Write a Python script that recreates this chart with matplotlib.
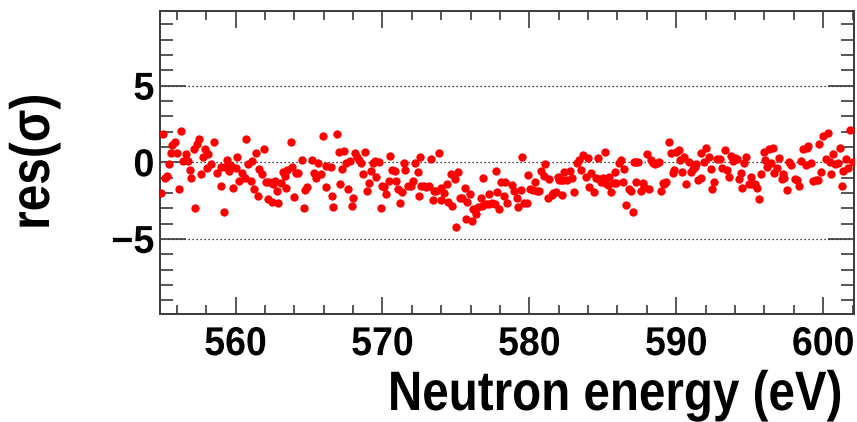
import matplotlib
matplotlib.use("Agg")
import matplotlib.pyplot as plt
from matplotlib import patheffects
from matplotlib.ticker import MultipleLocator, FuncFormatter
from matplotlib.transforms import Affine2D

# Fit residuals (in units of sigma) versus neutron energy (eV)
energy = [
    555.07, 556.27, 555.86, 555.70, 557.54, 557.38, 557.18, 558.51, 560.69, 555.59,
    556.04, 556.63, 557.93, 558.15, 557.77, 560.10, 556.45, 556.77, 555.50, 559.42,
    560.85, 558.36, 558.08, 556.88, 559.60, 559.76, 560.01, 559.04, 559.26, 559.58,
    558.76, 557.68, 555.36, 555.18, 556.99, 560.47, 560.62, 560.26, 559.04, 559.83,
    556.13, 554.95, 557.22, 559.22,
    565.93, 563.75, 561.94, 561.42, 561.10, 564.50, 565.18, 565.63, 566.16, 566.50,
    563.82, 561.62, 563.48, 563.25, 564.27, 564.09, 565.36, 565.79, 565.48, 561.78,
    563.37, 561.03, 562.07, 562.30, 562.69, 562.53, 563.07, 563.44, 561.28, 562.85,
    564.89, 564.73, 566.16, 561.55, 562.19, 562.46, 562.91, 563.98, 566.59, 564.66,
    566.65,
    566.88, 567.02, 567.40, 568.15, 568.27, 568.38, 568.52, 568.83, 567.77, 567.54,
    570.49, 567.25, 568.67, 569.47, 569.35, 569.74, 569.22, 569.58, 570.65, 570.83,
    571.49, 571.55, 572.23, 572.57, 572.39, 567.09, 567.63, 569.06, 568.95, 569.97,
    570.13, 570.42, 570.94, 570.26, 571.03, 571.33, 571.73, 571.94, 572.08, 572.64,
    567.97, 567.93, 569.90, 571.17, 572.46,
    573.28, 573.84, 574.64, 574.91, 575.14, 577.70, 576.86, 572.82, 572.98, 573.16,
    573.50, 573.68, 574.02, 574.18, 574.37, 573.46, 574.00, 574.48, 574.71, 575.27,
    575.43, 575.59, 575.95, 575.77, 576.18, 575.66, 576.11, 575.04, 576.34, 576.50,
    576.72, 576.79, 577.02, 577.24, 577.43, 577.65, 577.24, 577.92, 577.77, 578.08,
    578.31, 578.27, 578.49,
    578.79, 578.97, 579.15, 579.26, 579.42, 579.65, 579.81, 579.49, 579.94, 580.06,
    580.28, 580.37, 580.49, 580.67, 580.78, 581.01, 581.08, 581.35, 581.24, 581.51,
    581.64, 581.80, 581.92, 582.03, 582.14, 582.26, 582.37, 582.55, 582.78, 582.89,
    582.21, 583.05, 583.23, 583.39, 583.50, 583.66, 583.84, 584.02, 584.07, 584.23,
    584.41,
    584.66, 585.18, 584.55, 584.77, 584.89, 585.00, 585.11, 585.18, 585.39, 585.34,
    585.57, 585.73, 585.91, 585.86, 586.09, 586.25, 586.47, 586.41, 586.59, 586.77,
    586.93, 587.09, 587.15, 587.27, 587.43, 587.27, 587.61, 587.72, 587.83, 588.13,
    587.99, 588.29, 588.40, 588.56, 588.70, 588.86, 588.97, 589.08, 589.20, 589.31,
    589.49, 589.65, 589.76, 589.88, 589.99, 590.17, 590.26, 590.40,
    590.53, 590.85, 590.69, 591.03, 591.15, 591.26, 591.37, 591.49, 591.71, 591.71,
    591.89, 592.05, 592.23, 592.39, 592.44, 592.57, 592.78, 592.96, 593.12, 593.30,
    593.46, 593.59, 593.75, 593.87, 593.98, 594.14, 594.27, 594.43, 594.48, 594.61,
    594.77, 594.93, 595.11, 595.18, 595.34, 595.50, 595.61, 595.75, 595.95, 596.02,
    596.18, 596.29,
    596.61, 596.45, 596.66, 596.84, 596.99, 597.18, 597.29, 597.36, 597.52, 597.68,
    597.81, 598.08, 598.20, 598.36, 598.49, 598.65, 598.81, 598.88, 598.99, 599.17,
    599.33, 599.51, 599.67, 599.72, 599.85, 600.01, 600.31, 600.17, 600.53, 600.46,
    600.69, 600.80, 600.99, 601.14, 601.30, 601.37, 601.53, 601.67, 601.83, 602.01,
]

residual = [
    1.83, 2.04, 1.30, 1.15, 1.52, 1.17, 0.87, 1.30, 1.52, 0.59,
    0.59, 0.52, 0.87, 0.54, 0.37, 0.37, 0.09, 0.09, -0.13, 0.15,
    -0.11, -0.13, -0.35, -0.50, -0.17, -0.28, -0.35, -0.28, -0.28, -0.54,
    -0.72, -0.76, -0.87, -1.02, -1.00, -0.67, -1.04, -1.22, -1.52, -1.65,
    -1.74, -2.02, -2.96, -3.24,
    1.74, 1.30, 0.87, 0.59, 0.09, 0.15, 0.15, -0.07, -0.22, -0.28,
    -0.28, -0.43, -0.50, -0.61, -0.67, -0.72, -0.72, -0.76, -1.00, -0.78,
    -0.87, -1.22, -1.30, -1.26, -1.22, -1.41, -1.37, -1.65, -1.74, -1.87,
    -1.59, -1.80, -1.59, -2.17, -2.39, -2.57, -2.67, -2.24, -2.17, -2.96,
    -2.89,
    1.83, 0.65, 0.74, 0.59, 0.37, 0.15, -0.07, 0.65, 0.09, -0.07,
    0.43, -0.43, -0.78, 0.09, -0.07, 0.00, -0.57, -0.93, -0.50, -0.57,
    -0.07, -0.50, -0.07, 0.37, -0.65, -1.43, -1.74, -1.37, -1.87, -1.52,
    -1.59, -1.22, -1.22, -2.09, -1.74, -1.96, -1.52, -1.52, -1.22, -1.52,
    -2.30, -2.83, -2.96, -2.67, -2.17,
    0.22, 0.59, -0.78, -1.09, -0.65, -0.57, -1.00, -1.52, -1.59, -1.54,
    -1.87, -1.87, -1.65, -2.02, -1.43, -2.46, -2.46, -2.61, -2.83, -2.30,
    -2.30, -1.65, -2.09, -2.61, -3.04, -3.70, -3.83, -4.20, -3.39, -2.89,
    -2.30, -2.83, -2.74, -2.74, -2.67, -2.74, -2.09, -3.04, -1.91, -1.30,
    -1.30, -2.17, -2.67,
    -1.48, -1.87, -2.35, -2.89, -1.80, -2.67, -2.67, 0.37, -0.83, -1.74,
    -1.80, -1.30, -1.85, -1.85, -0.57, -0.87, -0.13, -1.09, -2.30, -2.13,
    -2.02, -1.91, -0.93, -1.15, -1.15, -1.15, -0.65, -1.15, -0.57, -1.04,
    -2.13, -1.91, -0.07, 0.15, -0.50, 0.48, -0.93, 0.26, -1.59, -0.72,
    -1.91,
    0.30, 0.65, -1.04, -1.09, -1.26, -1.04, -1.15, -1.33, -0.93, -1.48,
    -1.91, -1.37, -1.33, -0.65, -0.07, 0.15, -0.43, -1.26, -2.78, -1.74,
    -1.87, -3.26, 0.00, 0.00, 0.00, -1.26, -1.87, -1.33, -1.59, -1.74,
    0.52, 0.15, -0.02, -0.13, -0.02, 0.04, -1.87, -1.37, -1.41, -1.26,
    1.30, 0.59, -0.72, -0.50, 0.70, 0.80, 0.15, -0.61,
    0.37, 0.00, -1.41, -0.61, -0.43, -0.28, -0.13, -1.15, -1.04, 0.59,
    0.00, 0.96, 0.37, -0.43, -1.74, -1.30, 0.22, 0.22, -0.35, 0.80,
    -0.50, -0.93, 0.43, 0.09, 0.30, 0.22, -1.09, -0.72, -1.65, -0.07,
    0.37, -1.41, -0.93, -1.41, -1.41, -1.65, -2.39, -0.78, 0.65, 0.15,
    -0.28, 0.87,
    0.96, -0.07, -0.72, -0.35, 0.30, -1.09, -0.78, -1.00, -1.80, 0.04,
    -0.17, -1.09, -1.15, -1.52, 0.09, 0.87, -0.17, 0.91, 1.09, -0.07,
    -1.22, -1.15, -1.15, 1.17, -0.65, 1.74, 1.89, 0.22, -0.78, 0.00,
    0.52, -0.13, -0.07, 0.96, -1.52, -0.57, 0.22, -0.35, 2.11, 0.00,
]

x_range = (554.86, 602.1)
y_range = (-9.9, 9.87)
x_label = "Neutron energy (eV)"
y_label = "res(\u03c3)"

plt.rcParams["font.family"] = ["Liberation Sans", "DejaVu Sans"]
plt.rcParams["font.weight"] = "bold"


class Squeeze(patheffects.AbstractPathEffect):
    """Draw text glyphs narrowed along the writing direction."""

    def __init__(self, factor, anchor="center"):
        super().__init__()
        self.factor = factor
        self.anchor = anchor

    def draw_path(self, renderer, gc, tpath, affine, rgbFace=None):
        ext = tpath.get_extents()
        if self.anchor == "right":
            ox = ext.x1
        elif self.anchor == "left":
            ox = ext.x0
        else:
            ox = 0.5 * (ext.x0 + ext.x1)
        squeeze = Affine2D().translate(-ox, 0).scale(self.factor, 1.0).translate(ox, 0)
        renderer.draw_path(gc, tpath, squeeze + affine, rgbFace)


frame_color = "#3a3a3a"

fig = plt.figure(figsize=(8.57, 4.22), dpi=100)
ax = fig.add_axes([160 / 857, 108 / 422, 694 / 857, 303 / 422])

ax.plot(energy, residual, linestyle="none", marker="o", markersize=6,
        color="#ff0000", markeredgewidth=0, zorder=3)

ax.set_xlim(*x_range)
ax.set_ylim(*y_range)

ax.xaxis.set_major_locator(MultipleLocator(10))
ax.xaxis.set_minor_locator(MultipleLocator(2))
ax.yaxis.set_major_locator(MultipleLocator(5))
ax.yaxis.set_minor_locator(MultipleLocator(1))
ax.yaxis.set_major_formatter(FuncFormatter(
    lambda v, p: ("\u2212%d" % abs(v)) if v < 0 else "%d" % v))

ax.grid(axis="y", which="major", linestyle=(0, (1, 2.2)), color="black",
        linewidth=0.9, zorder=1)

for side in ax.spines.values():
    side.set_color(frame_color)
    side.set_linewidth(1.4)

ax.tick_params(axis="both", which="both", direction="in", top=True, right=True,
               color=frame_color, width=1.2)
ax.tick_params(axis="x", which="major", length=12.5, pad=8, labelsize=29)
ax.tick_params(axis="x", which="minor", length=6.5)
ax.tick_params(axis="y", which="major", length=19, pad=4, labelsize=28)
ax.tick_params(axis="y", which="minor", length=9.5)

for lab in ax.get_xticklabels():
    lab.set_fontweight("bold")
    lab.set_path_effects([Squeeze(0.93, "center")])
for lab in ax.get_yticklabels():
    lab.set_fontweight("bold")
    lab.set_path_effects([Squeeze(0.97, "right")])

fig.text(842 / 857, 12 / 422, x_label, ha="right", va="baseline",
         fontsize=40, fontweight="bold",
         path_effects=[Squeeze(0.856, "right")])
fig.text(35 / 857, (422 - 162) / 422, y_label, ha="center", va="center",
         rotation=90, fontsize=40, fontweight="bold",
         path_effects=[Squeeze(0.86, "center")])

fig.savefig("out.png", dpi=100, facecolor="white")
